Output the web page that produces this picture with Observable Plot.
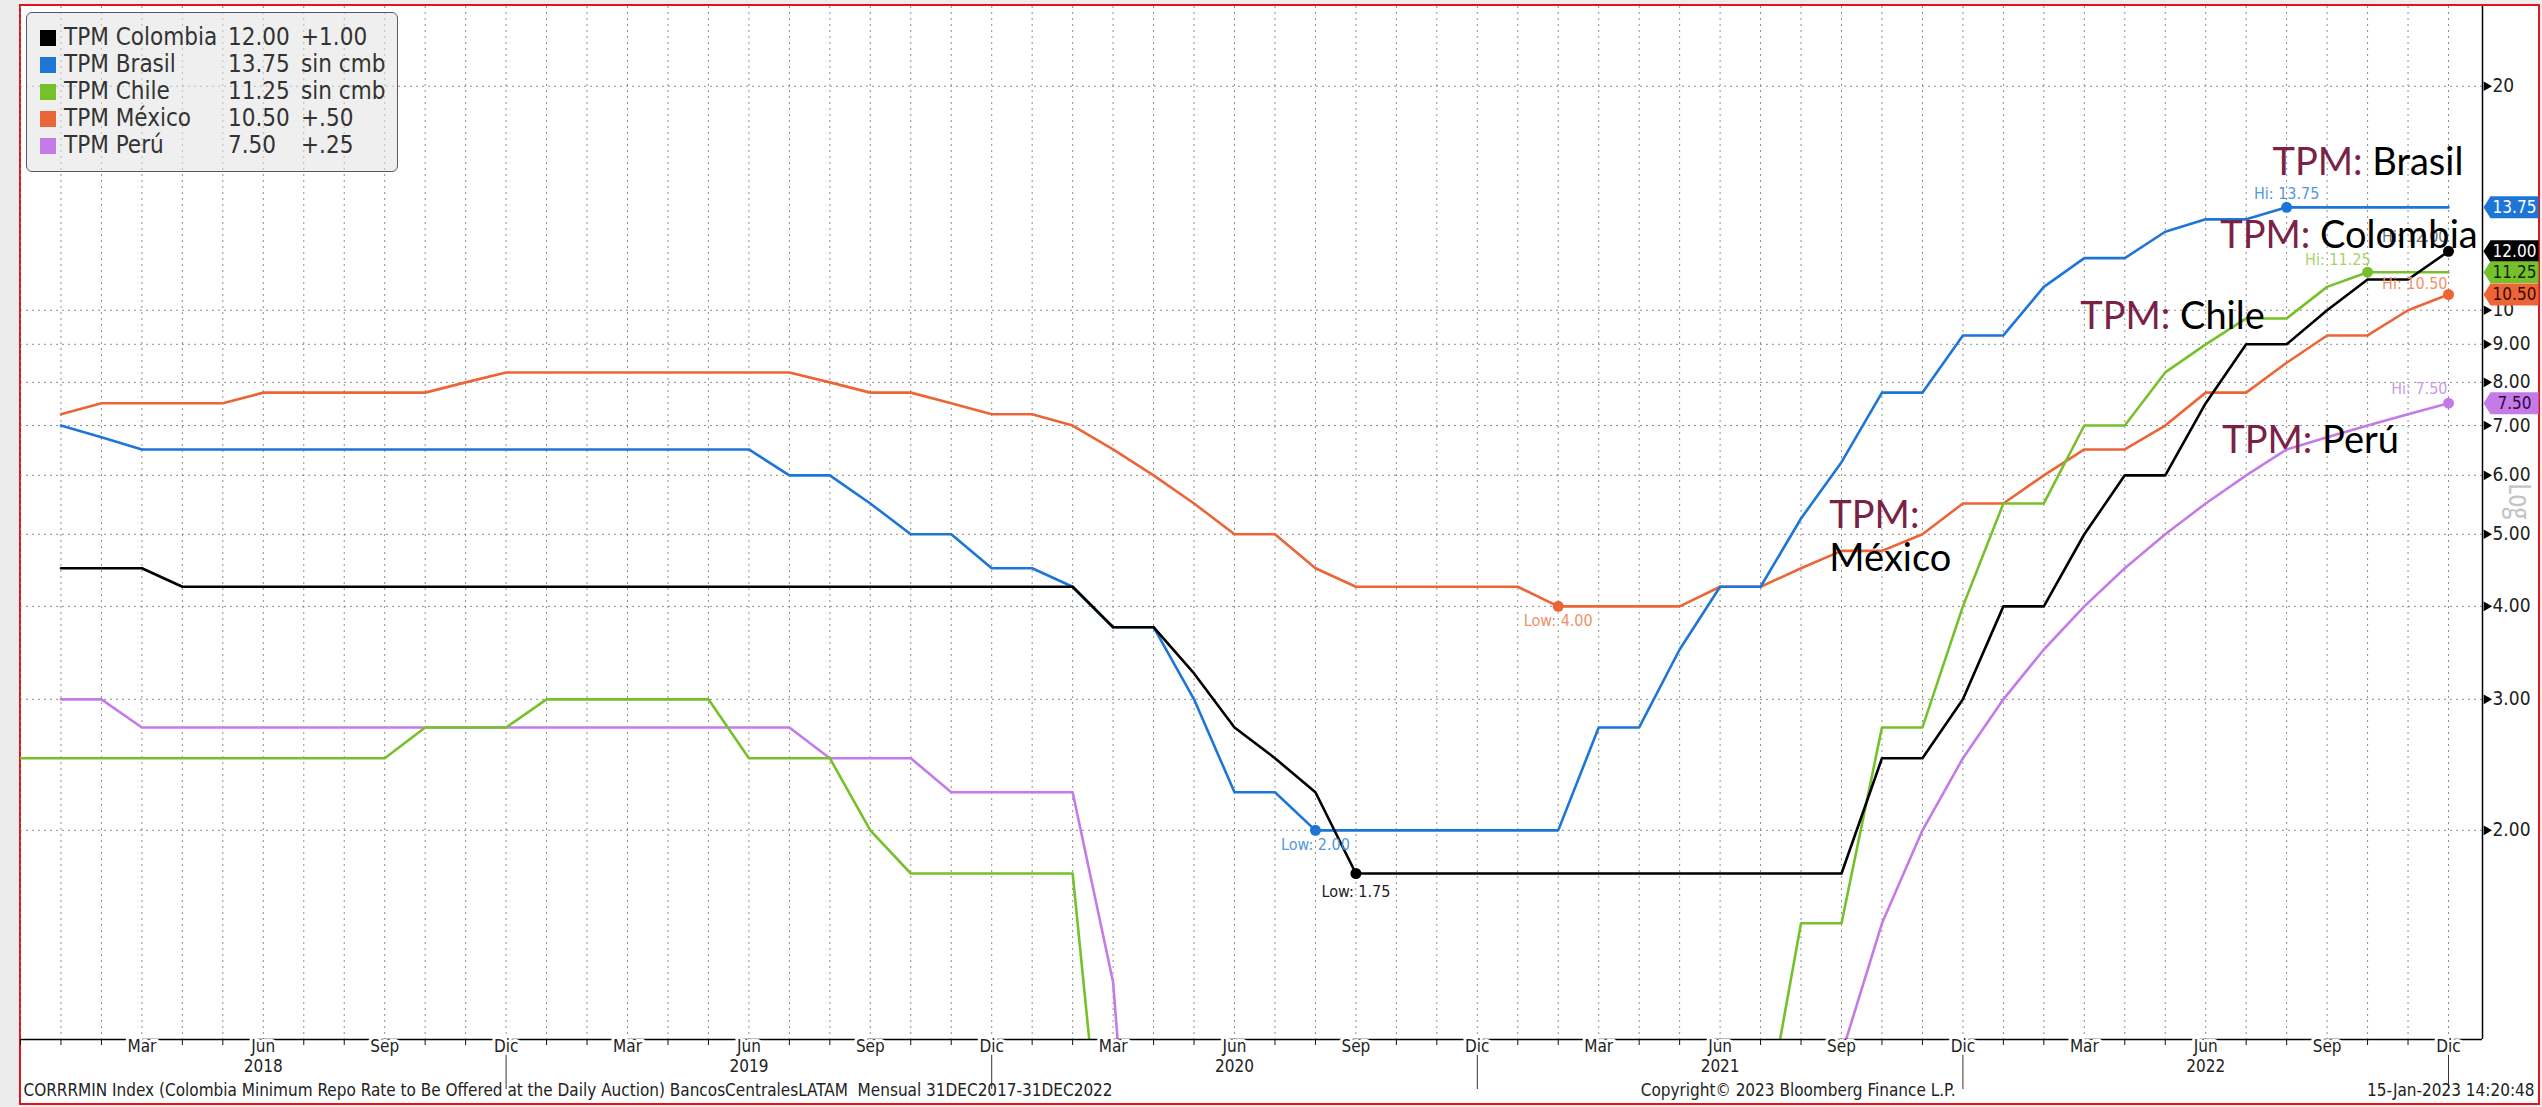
<!DOCTYPE html>
<html>
<head>
<meta charset="utf-8">
<script src="https://cdn.jsdelivr.net/npm/d3@7"></script>
<script src="https://cdn.jsdelivr.net/npm/@observablehq/plot@0.6"></script>
<style>
  html, body { margin: 0; padding: 0; background: #ececec; }
  #wrap { position: relative; width: 2542px; height: 1107px; overflow: hidden; }
  #frame { position: absolute; left: 19px; top: 4px; width: 2521px; height: 1101px; box-sizing: border-box;
           background: #fff; border: 2px solid #e2141c; }
  #chart { position: absolute; left: 0; top: 0; }
  #legend { position: absolute; left: 26px; top: 12px; width: 372px; height: 160px; box-sizing: border-box;
            background: rgba(226,226,226,0.55); border: 1.5px solid #5a5a5a; border-radius: 6px;
            padding: 11px 0 0 13px; font-family: "DejaVu Sans Condensed", "DejaVu Sans", sans-serif;
            font-stretch: condensed; font-size: 24px; color: #333; }
  .row { position: relative; height: 27px; line-height: 27px; white-space: nowrap; }
  .sw { position: absolute; left: 0; top: 6px; width: 16px; height: 16px; }
  .nm { position: absolute; left: 24px; }
  .vl { position: absolute; left: 188px; }
  .ch { position: absolute; left: 261px; }
</style>
</head>
<body>
<div id="wrap">
  <div id="frame"></div>
  <div id="chart"></div>
  <div id="legend"></div>
</div>
<script>
// ---------- data (month index 0 = Dic 2017 ... 60 = Dic 2022, month-end values) ----------
const monthNames = ["Ene","Feb","Mar","Abr","May","Jun","Jul","Ago","Sep","Oct","Nov","Dic"];
const firstMonth = 11; // Dec (0-based) 2017

const colombia = [null, 4.50, 4.50, 4.50,
  4.25, 4.25, 4.25, 4.25, 4.25, 4.25, 4.25, 4.25, 4.25, 4.25, 4.25, 4.25, 4.25, 4.25, 4.25, 4.25, 4.25, 4.25, 4.25, 4.25, 4.25, 4.25, 4.25,
  3.75, 3.75, 3.25, 2.75, 2.50, 2.25,
  1.75, 1.75, 1.75, 1.75, 1.75, 1.75, 1.75, 1.75, 1.75, 1.75, 1.75, 1.75, 1.75,
  2.50, 2.50, 3.00, 4.00, 4.00, 5.00, 6.00, 6.00, 7.50, 9.00, 9.00, 10.00, 11.00, 11.00, 12.00];

const brasil = [null, 7.00, 6.75,
  6.50, 6.50, 6.50, 6.50, 6.50, 6.50, 6.50, 6.50, 6.50, 6.50, 6.50, 6.50, 6.50, 6.50, 6.50, 6.50,
  6.00, 6.00, 5.50, 5.00, 5.00, 4.50, 4.50, 4.25, 3.75, 3.75, 3.00, 2.25, 2.25,
  2.00, 2.00, 2.00, 2.00, 2.00, 2.00, 2.00,
  2.75, 2.75, 3.50, 4.25, 4.25, 5.25, 6.25, 7.75, 7.75, 9.25, 9.25, 10.75, 11.75, 11.75, 12.75, 13.25, 13.25,
  13.75, 13.75, 13.75, 13.75, 13.75];

const chile = [2.50, 2.50, 2.50, 2.50, 2.50, 2.50, 2.50, 2.50, 2.50, 2.50,
  2.75, 2.75, 2.75, 3.00, 3.00, 3.00, 3.00, 3.00, 2.50, 2.50, 2.50, 2.00,
  1.75, 1.75, 1.75, 1.75, 1.75,
  0.50, 0.50, 0.50, 0.50, 0.50, 0.50, 0.50, 0.50, 0.50, 0.50, 0.50, 0.50, 0.50, 0.50, 0.50, 0.50,
  0.75, 1.50, 1.50, 2.75, 2.75, 4.00, 5.50, 5.50, 7.00, 7.00, 8.25, 9.00, 9.75, 9.75, 10.75, 11.25, 11.25, 11.25];

const mexico = [null, 7.25, 7.50, 7.50, 7.50, 7.50, 7.75, 7.75, 7.75, 7.75, 7.75, 8.00,
  8.25, 8.25, 8.25, 8.25, 8.25, 8.25, 8.25, 8.25,
  8.00, 7.75, 7.75, 7.50, 7.25, 7.25, 7.00, 6.50, 6.00, 5.50, 5.00, 5.00, 4.50,
  4.25, 4.25, 4.25, 4.25, 4.25, 4.00, 4.00, 4.00, 4.00,
  4.25, 4.25, 4.50, 4.75, 4.75, 5.00, 5.50, 5.50, 6.00, 6.50, 6.50, 7.00, 7.75, 7.75, 8.50, 9.25, 9.25, 10.00, 10.50];

const peru = [null, 3.00, 3.00,
  2.75, 2.75, 2.75, 2.75, 2.75, 2.75, 2.75, 2.75, 2.75, 2.75, 2.75, 2.75, 2.75, 2.75, 2.75, 2.75, 2.75,
  2.50, 2.50, 2.50, 2.25, 2.25, 2.25, 2.25, 1.25,
  0.25, 0.25, 0.25, 0.25, 0.25, 0.25, 0.25, 0.25, 0.25, 0.25, 0.25, 0.25, 0.25, 0.25, 0.25, 0.25,
  0.50, 1.00, 1.50, 2.00, 2.50, 3.00, 3.50, 4.00, 4.50, 5.00, 5.50, 6.00, 6.50, 6.75, 7.00, 7.25, 7.50];

const countries   = ["Colombia", "Brasil", "Chile", "México", "Perú"];
const seriesList  = [colombia, brasil, chile, mexico, peru];
const lastLabels  = ["12.00", "13.75", "11.25", "10.50", "7.50"];
const changeLabels = ["+1.00", "sin cmb", "sin cmb", "+.50", "+.25"];
const showLow     = ["Colombia", "Brasil", "México"];

const yTicks      = [2, 3, 4, 5, 6, 7, 8, 9, 10, 20];
const yTickLabels = ["2.00", "3.00", "4.00", "5.00", "6.00", "7.00", "8.00", "9.00", "10", "20"];
const quarterTicks = [3, 6, 9, 12, 15, 18, 21, 24, 27, 30, 33, 36, 39, 42, 45, 48, 51, 54, 57, 60];
const yearTicks   = [6, 18, 30, 42, 54];
const yearLabels  = ["2018", "2019", "2020", "2021", "2022"];
const decTicks    = [12, 24, 36, 48, 60];

// annotation text positions (month index, rate)
const annotNames = ["Brasil", "Colombia", "Chile", "Perú"];
const annotX     = [55.65, 54.36, 50.90, 54.41];
const annotY     = [15.76, 12.58, 9.79, 6.67];
const mexAnnot   = {x: 44.70, yPrefix: 5.29, yName: 4.64};

const footerLeft  = "CORRRMIN Index (Colombia Minimum Repo Rate to Be Offered at the Daily Auction) BancosCentralesLATAM  Mensual 31DEC2017-31DEC2022";
const footerMid   = "Copyright\u00A9 2023 Bloomberg Finance L.P.";
const footerRight = "15-Jan-2023 14:20:48";

// ---------- styles ----------
const colorOf = {"Colombia": "#000000", "Brasil": "#1d76d6", "Chile": "#76c12b", "México": "#ec6536", "Perú": "#c47be7"};
const tagText = {"Colombia": "#ffffff", "Brasil": "#ffffff", "Chile": "#14260a", "México": "#3a0800", "Perú": "#2b0645"};
const labelStyle = {
  "Brasil-Hi":    {dx: 0,  dy: -13, anchor: "middle", fill: "#5597dc"},
  "Chile-Hi":     {dx: 3,  dy: -12, anchor: "end",    fill: "#a9d26c"},
  "México-Hi":    {dx: -1, dy: -11, anchor: "end",    fill: "#f0936a"},
  "Colombia-Hi":  {dx: -1, dy: -14, anchor: "end",    fill: "#707070"},
  "Perú-Hi":      {dx: -1, dy: -14, anchor: "end",    fill: "#c99ce9"},
  "Brasil-Low":   {dx: 0,  dy: 15,  anchor: "middle", fill: "#5597dc"},
  "Colombia-Low": {dx: 0,  dy: 18,  anchor: "middle", fill: "#222222"},
  "México-Low":   {dx: 0,  dy: 15,  anchor: "middle", fill: "#f0906a"}
};
const condensed = "DejaVu Sans Condensed, DejaVu Sans, sans-serif";

// ---------- derived tables ----------
const drawOrder = ["Perú", "México", "Chile", "Brasil", "Colombia"];
const rows = [];
for (const c of drawOrder) {
  const vals = seriesList[countries.indexOf(c)];
  vals.forEach((v, i) => { if (v != null) rows.push({country: c, i, v}); });
}
const yMin = 1.047, yMax = 25.6, xMax = 60.84;

const extremes = [];
countries.forEach((c, k) => {
  const vals = seriesList[k].map(v => v == null ? NaN : v);
  const hi = d3.maxIndex(vals);
  extremes.push({country: c, kind: "Hi", i: hi, v: vals[hi]});
  if (showLow.includes(c)) {
    const lo = d3.minIndex(vals);
    extremes.push({country: c, kind: "Low", i: lo, v: vals[lo]});
  }
});
const tags = countries.map((c, k) => ({country: c, v: seriesList[k][seriesList[k].length - 1], label: lastLabels[k]}));

const tagSymbol = {
  draw(ctx) {
    ctx.moveTo(1, 0); ctx.lineTo(8, -11); ctx.lineTo(56, -11); ctx.lineTo(56, 11); ctx.lineTo(8, 11); ctx.closePath();
  }
};

// measure prefix width for two-colour annotations
const annFont = "38px Lato";
const cv = document.createElement("canvas").getContext("2d");
cv.font = annFont;
const prefixW = cv.measureText("TPM: ").width;

const gridStyle = {stroke: "#7a7a7a", strokeOpacity: 0.85, strokeDasharray: "2,4", strokeWidth: 1};

const chart = Plot.plot({
  width: 2542, height: 1107,
  marginLeft: 20, marginRight: 60, marginTop: 6, marginBottom: 68,
  style: {background: "transparent", fontFamily: condensed, fontStretch: "condensed", overflow: "visible"},
  x: {type: "linear", domain: [0, xMax], axis: null, label: null},
  y: {type: "log", domain: [yMin, yMax], axis: null, label: null},
  color: {domain: countries, range: countries.map(c => colorOf[c])},
  marks: [
    Plot.gridY(yTicks, gridStyle),
    Plot.gridX(d3.range(0, 61), gridStyle),
    Plot.line(rows, {x: "i", y: "v", z: "country", stroke: "country", strokeWidth: 2.6, clip: true}),
    Plot.dot(extremes, {x: "i", y: "v", r: 5.5, fill: "country"}),
    ...extremes.map(e => {
      const s = labelStyle[e.country + "-" + e.kind];
      return Plot.text([e], {x: "i", y: "v", text: d => `${d.kind}: ${d.v.toFixed(2)}`, dx: s.dx, dy: s.dy,
        textAnchor: s.anchor, fill: s.fill, fontSize: 16});
    }),
    Plot.ruleX([xMax], {stroke: "#000", strokeWidth: 1.5}),
    Plot.ruleY([yMin], {stroke: "#000", strokeWidth: 1.5}),
    Plot.axisX(d3.range(0, 61), {tickSize: 6, tickFormat: () => "", stroke: "#111"}),
    Plot.axisX(decTicks, {tickSize: 50, tickFormat: () => "", stroke: "#333"}),
    Plot.text(quarterTicks, {x: d => d, frameAnchor: "bottom", dy: 12, text: d => monthNames[(firstMonth + d) % 12],
      fontSize: 17, fill: "#222", stroke: "white", strokeWidth: 6, paintOrder: "stroke"}),
    Plot.text(yearTicks, {x: d => d, frameAnchor: "bottom", dy: 32, text: (d, i) => yearLabels[i],
      fontSize: 17, fill: "#222"}),
    Plot.dot(yTicks, {x: () => xMax, y: d => d, symbol: "triangle", r: 3.6, fill: "#000", rotate: 90, dx: 4}),
    Plot.text(yTicks, {x: () => xMax, y: d => d, text: (d, i) => yTickLabels[i], textAnchor: "start", dx: 10,
      fontSize: 19, fill: "#222"}),
    Plot.text(["Log"], {frameAnchor: "right", dx: 36, dy: -4, rotate: 90, fontSize: 30, fill: "#c4c4c4",
      fontFamily: "Open Sans, sans-serif"}),
    Plot.dot(tags, {x: () => xMax, y: "v", symbol: tagSymbol, r: 5, fill: "country"}),
    Plot.text(tags, {x: () => xMax, y: "v", text: "label", dx: 32, fill: d => tagText[d.country], fontSize: 17}),
    Plot.text(annotNames, {x: (d, i) => annotX[i], y: (d, i) => annotY[i], text: () => "TPM:", textAnchor: "start",
      fontFamily: "Lato, sans-serif", fontSize: 38, fill: "#7a2146"}),
    Plot.text(annotNames, {x: (d, i) => annotX[i], y: (d, i) => annotY[i], text: d => d, textAnchor: "start",
      dx: prefixW, fontFamily: "Lato, sans-serif", fontSize: 38, fill: "#000"}),
    Plot.text(["TPM:"], {x: () => mexAnnot.x, y: () => mexAnnot.yPrefix, textAnchor: "start",
      fontFamily: "Lato, sans-serif", fontSize: 38, fill: "#7a2146"}),
    Plot.text(["México"], {x: () => mexAnnot.x, y: () => mexAnnot.yName, textAnchor: "start",
      fontFamily: "Lato, sans-serif", fontSize: 38, fill: "#000"}),
    Plot.text([footerLeft], {frameAnchor: "bottom-left", dx: 3, dy: 56, textAnchor: "start", fontSize: 17, fill: "#222"}),
    Plot.text([footerMid], {frameAnchor: "bottom-right", dx: -527, dy: 56, textAnchor: "end", fontSize: 17, fill: "#222"}),
    Plot.text([footerRight], {frameAnchor: "bottom-right", dx: 52, dy: 56, textAnchor: "end", fontSize: 17, fill: "#222"})
  ]
});
document.getElementById("chart").appendChild(chart);

// legend
const lg = document.getElementById("legend");
countries.forEach((c, k) => {
  const r = document.createElement("div");
  r.className = "row";
  r.innerHTML = `<span class="sw" style="background:${colorOf[c]}"></span><span class="nm">TPM ${c}</span>` +
                `<span class="vl">${lastLabels[k]}</span><span class="ch">${changeLabels[k]}</span>`;
  lg.appendChild(r);
});
</script>
</body>
</html>
